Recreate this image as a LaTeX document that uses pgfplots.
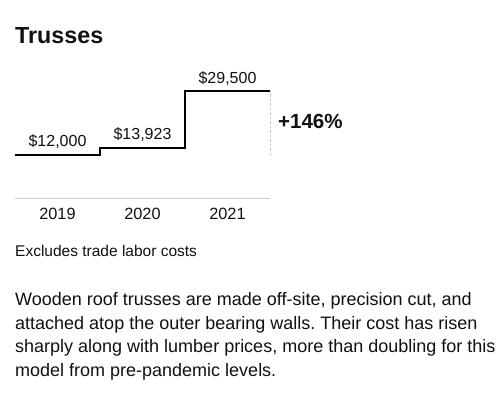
\documentclass[border=0pt]{standalone}
\usepackage{pgfplots}
\pgfplotsset{compat=1.18}
\usepackage{fontspec}
\setmainfont{Liberation Sans}
\definecolor{basegray}{HTML}{CCCCCC}
\definecolor{dashgray}{HTML}{C8C8C8}
\definecolor{txt}{HTML}{111111}
\frenchspacing
\begin{document}
\begin{tikzpicture}
\useasboundingbox[fill=white] (0,0) rectangle (500bp,395bp);
\node[anchor=base west, inner sep=0pt, text=txt] at (15bp,351bp) {\fontsize{23.3bp}{27bp}\selectfont\bfseries Trusses};
\begin{axis}[
  at={(15bp,196bp)}, anchor=origin,
  scale only axis, width=255bp, height=109.7bp,
  xmin=0, xmax=3, ymin=0, ymax=30000,
  hide axis, clip=false,
]
\draw[basegray, line width=1bp] (axis cs:0,0) -- (axis cs:3,0);
\draw[dashgray, line width=0.8bp, dash pattern=on 2.5bp off 2bp] (axis cs:3,12000) -- (axis cs:3,29500);
\addplot[const plot, black, line width=2.7bp, mark=none] coordinates {(0,12000) (1,13923) (2,29500) (3,29500)};
\node[anchor=base, inner sep=0pt, text=txt, yshift=9bp] at (axis cs:0.5,12000) {\fontsize{16bp}{19bp}\selectfont \$12,000};
\node[anchor=base, inner sep=0pt, text=txt, yshift=9bp] at (axis cs:1.5,13923) {\fontsize{16bp}{19bp}\selectfont \$13,923};
\node[anchor=base, inner sep=0pt, text=txt, yshift=8bp] at (axis cs:2.5,29500) {\fontsize{16bp}{19bp}\selectfont \$29,500};
\node[anchor=base, inner sep=0pt, text=txt, yshift=-21bp] at (axis cs:0.5,0) {\fontsize{16.3bp}{19bp}\selectfont 2019};
\node[anchor=base, inner sep=0pt, text=txt, yshift=-21bp] at (axis cs:1.5,0) {\fontsize{16.3bp}{19bp}\selectfont 2020};
\node[anchor=base, inner sep=0pt, text=txt, yshift=-21bp] at (axis cs:2.5,0) {\fontsize{16.3bp}{19bp}\selectfont 2021};
\end{axis}
\node[anchor=base west, inner sep=0pt, text=txt] at (278bp,266bp) {\fontsize{20.5bp}{24bp}\selectfont\bfseries +146\%};
\node[anchor=base west, inner sep=0pt, text=txt] at (15bp,138bp) {\fontsize{15.5bp}{18bp}\selectfont Excludes trade labor costs};
\node[anchor=base west, inner sep=0pt, text=txt] at (15bp,89bp) {\fontsize{18bp}{22bp}\selectfont Wooden roof trusses are made off-site, precision cut, and};
\node[anchor=base west, inner sep=0pt, text=txt] at (15bp,65.5bp) {\fontsize{18bp}{22bp}\selectfont attached atop the outer bearing walls. Their cost has risen};
\node[anchor=base west, inner sep=0pt, text=txt] at (15bp,42bp) {\fontsize{18bp}{22bp}\selectfont sharply along with lumber prices, more than doubling for this};
\node[anchor=base west, inner sep=0pt, text=txt] at (15bp,18.5bp) {\fontsize{18bp}{22bp}\selectfont model from pre-pandemic levels.};
\end{tikzpicture}
\end{document}
